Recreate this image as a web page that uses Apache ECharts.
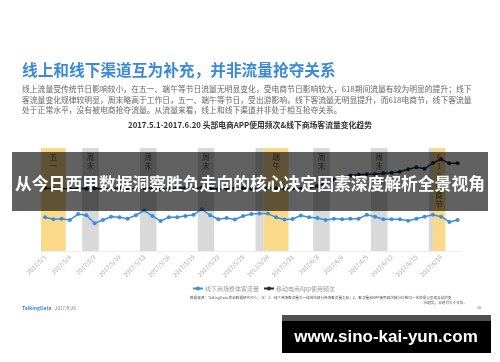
<!DOCTYPE html>
<html><head><meta charset="utf-8">
<script src="https://cdn.jsdelivr.net/npm/echarts@6/dist/echarts.min.js"></script>
<style>html,body{margin:0;padding:0;background:#fff}#c{width:500px;height:362px}</style>
</head><body><div id="c"></div>
<script>
const dates = ['2017/5/1','2017/5/2','2017/5/3','2017/5/4','2017/5/5','2017/5/6','2017/5/7','2017/5/8','2017/5/9','2017/5/10',
  '2017/5/11','2017/5/12','2017/5/13','2017/5/14','2017/5/15','2017/5/16','2017/5/17','2017/5/18','2017/5/19','2017/5/20',
  '2017/5/21','2017/5/22','2017/5/23','2017/5/24','2017/5/25','2017/5/26','2017/5/27','2017/5/28','2017/5/29','2017/5/30',
  '2017/5/31','2017/6/1','2017/6/2','2017/6/3','2017/6/4','2017/6/5','2017/6/6','2017/6/7','2017/6/8','2017/6/9',
  '2017/6/10','2017/6/11','2017/6/12','2017/6/13','2017/6/14','2017/6/15','2017/6/16','2017/6/17','2017/6/18','2017/6/19','2017/6/20'];
const offlineTraffic = [32.7,30.8,31.4,30.1,35.9,34.7,26.9,30.1,33.3,32.7,
  31.4,34.7,39.3,34.0,29.1,32.7,32.7,34.0,35.2,40.5,
  34.7,30.8,32.0,30.6,34.0,35.9,36.3,36.3,32.7,30.5,
  31.1,34.4,32.7,32.0,30.1,31.4,30.8,31.4,31.4,35.2,
  33.3,30.8,30.8,30.8,29.4,31.4,33.3,35.2,33.3,28.2,30.1];
const appFrequency = [61.2,60.5,60.8,60.2,61.0,60.5,60.9,60.3,60.7,61.0,
  60.4,60.8,61.3,60.6,60.2,60.7,60.9,61.2,60.6,61.4,
  60.8,60.3,60.6,60.9,61.1,60.5,60.8,61.2,60.9,60.4,
  60.6,60.4,60.9,63.1,66.0,68.9,71.4,73.3,74.3,74.5,
  74.6,75.4,76.0,76.9,79.4,81.3,79.9,85.4,89.0,85.1,85.1];
const seriesNames = ['线下商场整体客流量','移动电商App使用频次'];
// highlighted periods, in day-index units (0 = 2017/5/1)
const bandStart = [4.5, 11.5, 18.5, 25.5, 32.5, 39.5, 46.5, -0.5, 26.5, 47];
const bandEnd   = [6.5, 13.5, 20.5, 26.5, 34.5, 41.5, 48.5, 2.5, 29.5, 48.5];
const bandKind  = ['weekend','weekend','weekend','weekend','weekend','weekend','weekend','holiday','holiday','holiday'];
const bandLabel = ['周\n末','周\n末','周\n末','','周\n末','周\n末','','五\n一','端\n午','6\n1\n8\n电\n商\n节'];

const FONT = 'Noto Sans CJK SC';
const bandColors = {weekend:'#d9d9d9', holiday:'#fbd98b'};
const areas = bandStart.map((s,i)=>[
  {name: bandLabel[i], xAxis: s, itemStyle:{color: bandColors[bandKind[i]], opacity:1}},
  {xAxis: bandEnd[i]}
]);

const chart = echarts.init(document.getElementById('c'), null, {renderer:'canvas'});
chart.setOption({
  animation:false,
  backgroundColor:'#fff',
  textStyle:{fontFamily:FONT},
  grid:{left:41, right:38.25, top:148, bottom:111, containLabel:false},
  legend:{
    data:seriesNames, left:187, top:280.5, itemWidth:10, itemHeight:5, itemGap:4,
    textStyle:{fontSize:6, color:'#999', fontFamily:FONT, padding:[0,0,0,-3]}
  },
  xAxis:[{
    type:'category', data:dates, boundaryGap:true,
    axisLine:{lineStyle:{color:'#eeeeee'}}, axisTick:{show:false},
    axisLabel:{interval:2, rotate:45, fontSize:6, color:'#aaa', margin:5, fontFamily:FONT}
  },{
    type:'value', min:-0.5, max:50.5, show:false
  }],
  yAxis:{type:'value', min:0, max:100, show:false},
  series:[{
    type:'line', xAxisIndex:1, data:[], silent:true, legendHoverLink:false,
    markArea:{silent:true, data:areas,
      label:{position:'insideTop', distance:4, fontSize:7.5, lineHeight:9.5, color:'#555', fontFamily:FONT}}
  },{
    name:seriesNames[0], type:'line', data:offlineTraffic, symbol:'circle', symbolSize:4,
    itemStyle:{color:'#3a8fdc'}, lineStyle:{color:'#3a8fdc', width:1.5}
  },{
    name:seriesNames[1], type:'line', data:appFrequency, symbol:'circle', symbolSize:4,
    itemStyle:{color:'#1f2b4d'}, lineStyle:{color:'#1f2b4d', width:1.5}
  }],
  graphic:[
    {type:'text', left:22, top:62, style:{text:'线上和线下渠道互为补充，并非流量抢夺关系', font:'bold 15.7px "Noto Sans CJK SC"', fill:'#3b8ad9'}},
    {type:'text', left:22, top:85.5, style:{text:'线上流量受传统节日影响较小，在五一、端午等节日流量无明显变化，受电商节日影响较大，618期间流量有较为明显的提升；线下', font:'7.8px "Noto Sans CJK SC"', fill:'#666'}},
    {type:'text', left:22, top:95.8, style:{text:'客流量变化规律较明显，周末略高于工作日，五一、端午等节日，受出游影响，线下客流量无明显提升，而618电商节，线下客流量', font:'7.8px "Noto Sans CJK SC"', fill:'#666'}},
    {type:'text', left:22, top:106.3, style:{text:'处于正常水平，没有被电商抢夺流量。从流量来看，线上和线下渠道并非处于相互抢夺关系。', font:'7.8px "Noto Sans CJK SC"', fill:'#666'}},
    {type:'text', x:250, y:125, style:{text:'2017.5.1-2017.6.20 头部电商APP使用频次&线下商场客流量变化趋势', font:'bold 7.8px "Noto Sans CJK SC"', fill:'#333', align:'center', verticalAlign:'middle'}},
    {type:'text', x:190, y:298, style:{text:'数据来源：TalkingData 移动数据研究中心；注：1、线下商场客流量为一线城市部分商场客流量之和；2、客流量和APP使用频次做分位数归一化处理以呈现各自的变', font:'3.6px "Noto Sans CJK SC"', fill:'#555', verticalAlign:'middle'}},
    {type:'text', x:467, y:302.5, style:{text:'化趋势，非绝对大小关系。', font:'3.6px "Noto Sans CJK SC"', fill:'#555', align:'right', verticalAlign:'middle'}},
    {type:'text', x:22, y:308, style:{text:'TalkingData', font:'bold 5px "Noto Sans CJK SC"', fill:'#3b8ad9', verticalAlign:'middle'}},
    {type:'text', x:55, y:308, style:{text:'2017/9/26', font:'4.5px "Noto Sans CJK SC"', fill:'#777', verticalAlign:'middle'}},
    {type:'text', x:477, y:307, style:{text:'36', font:'4px "Noto Sans CJK SC"', fill:'#777', verticalAlign:'middle'}},
    {type:'rect', z:100, shape:{x:12, y:152, width:476, height:59}, style:{fill:'rgba(0,0,0,0.62)'}},
    {type:'text', z:101, x:250, y:184, style:{text:'从今日西甲数据洞察胜负走向的核心决定因素深度解析全景视角', font:'bold 16.8px "Noto Sans CJK SC"', fill:'#fff', align:'center', verticalAlign:'middle'}},
    {type:'rect', z:100, shape:{x:282, y:315, width:209, height:6}, style:{fill:'#505050'}},
    {type:'rect', z:100, shape:{x:282, y:321, width:209, height:32}, style:{fill:'#000'}},
    {type:'text', z:101, x:386, y:337, style:{text:'www.sino-kai-yun.com', font:'bold 17px "Liberation Sans"', fill:'#fff', align:'center', verticalAlign:'middle'}}
  ]
});
</script></body></html>
